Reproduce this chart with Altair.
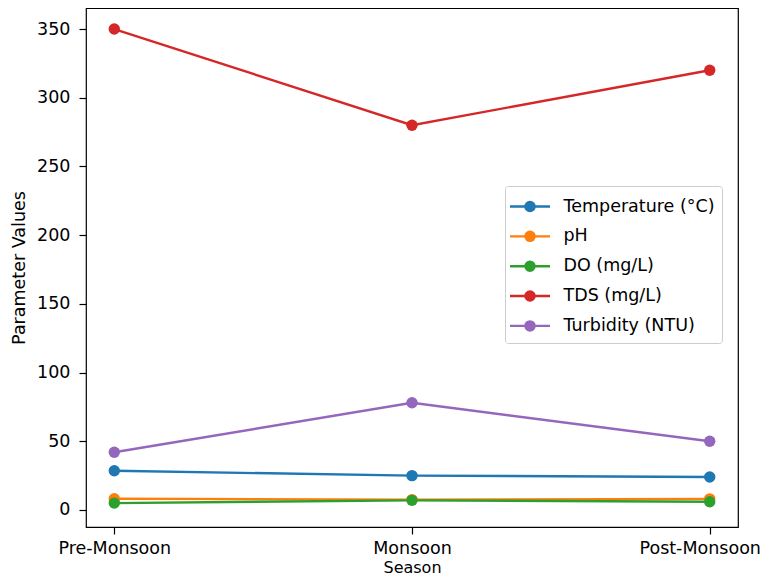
import altair as alt
import pandas as pd

seasons = ["Pre-Monsoon", "Monsoon", "Post-Monsoon"]
series_names = ["Temperature (°C)", "pH", "DO (mg/L)", "TDS (mg/L)", "Turbidity (NTU)"]
temperature = [28.5, 25.0, 24.0]
ph = [8.2, 7.5, 8.1]
dissolved_oxygen = [5.0, 7.0, 6.0]
tds = [350, 280, 320]
turbidity = [42, 78, 50]
colors = ["#1f77b4", "#ff7f0e", "#2ca02c", "#d62728", "#9467bd"]
y_ticks = [0, 50, 100, 150, 200, 250, 300, 350]

rows = []
for i, (name, vals) in enumerate(zip(series_names, [temperature, ph, dissolved_oxygen, tds, turbidity])):
    for j, (s, v) in enumerate(zip(seasons, vals)):
        rows.append({"Season": s, "Parameter": name, "Series": name, "Value": v, "order": i * 10 + j})
df = pd.DataFrame(rows)

FONT = "DejaVu Sans"
FS = 17.5


def circle_path(r):
    k = 0.5523 * r
    return (f"M{r},0C{r},{k} {k},{r} 0,{r}C{-k},{r} {-r},{k} {-r},0"
            f"C{-r},{-k} {-k},{-r} 0,{-r}C{k},{-r} {r},{-k} {r},0Z")


# legend glyph (stroke only): short line plus a dot built from concentric rings
legend_path = "M-1.667,0L1.667,0 " + " ".join(circle_path(r) for r in (0.08, 0.22, 0.38))

x = alt.X("Season:N", sort=seasons,
          scale=alt.Scale(type="point", padding=0.095),
          axis=alt.Axis(title="Season", labelAngle=0, labelPadding=5, titlePadding=3,
                        titleFontSize=16,
                        labelOffset={"condition": {"test": f"datum.value === '{seasons[-1]}'",
                                                   "value": -10},
                                     "value": 0}))
y = alt.Y("Value:Q",
          scale=alt.Scale(domain=[-12.4, 365.3], nice=False, zero=False),
          axis=alt.Axis(title="Parameter Values", values=y_ticks, labelPadding=9, titlePadding=8))

lines = alt.Chart(df).mark_line(strokeWidth=2.4).encode(
    x=x, y=y,
    stroke=alt.Stroke("Series:N", sort=series_names,
                      scale=alt.Scale(domain=series_names, range=colors),
                      legend=alt.Legend(
                          title=None, orient="none", legendX=419, legendY=178,
                          padding=7, rowPadding=6.85, symbolOffset=4.5,
                          symbolType=legend_path, symbolSize=576, symbolStrokeWidth=2.4,
                          labelOffset=20, labelFontSize=FS, labelFont=FONT, labelColor="black",
                          labelLimit=400, strokeColor="#cccccc", fillColor="white",
                          cornerRadius=3)),
    order="order:Q",
)

points = alt.Chart(df).mark_point(filled=True, size=130, opacity=1, shape="circle").encode(
    x=x, y=y,
    fill=alt.Fill("Parameter:N", sort=series_names,
                  scale=alt.Scale(domain=series_names, range=colors), legend=None),
    order="order:Q",
)

chart = alt.layer(lines, points).properties(
    width=652, height=519,
    autosize=alt.AutoSizeParams(type="none"),
    padding={"left": 78, "top": 0, "right": 23, "bottom": 50},
).configure_view(
    stroke="black", strokeWidth=1.2
).configure_axis(
    grid=False, domain=False, tickColor="black", tickSize=7, tickWidth=1.2,
    labelFont=FONT, labelFontSize=FS, labelColor="black",
    titleFont=FONT, titleFontSize=FS, titleFontWeight="normal", titleColor="black",
)

chart.save("out.html", embed_options={"renderer": "svg", "actions": False})
